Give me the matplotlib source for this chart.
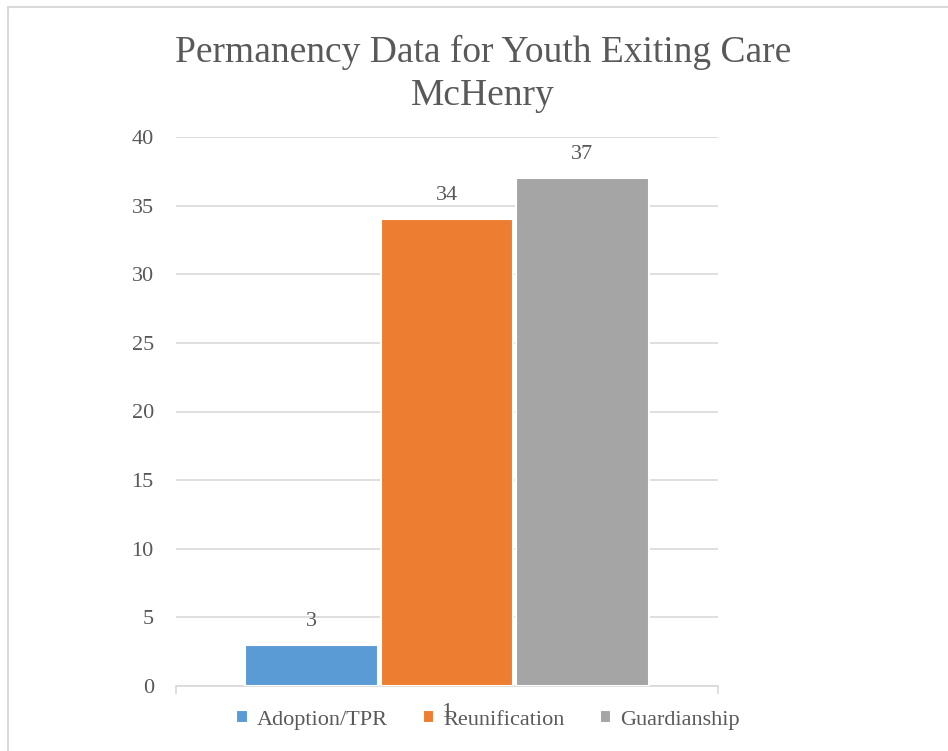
import matplotlib.pyplot as plt
from matplotlib.patches import Rectangle

# data
series = ["Adoption/TPR", "Reunification", "Guardianship"]
values = [3, 34, 37]
colors = ["#5B9BD5", "#ED7D31", "#A5A5A5"]
offsets = [-0.25, 0.0, 0.25]
yticks = [0, 5, 10, 15, 20, 25, 30, 35, 40]

txt = "#595959"
plt.rcParams['font.family'] = ['Liberation Serif', 'DejaVu Serif']

fig = plt.figure(figsize=(9.48, 7.51), dpi=100)
ax = fig.add_axes([176/948, 1-686/751, (718-176)/948, (686-137)/751])

# chart border (cropped on right and bottom like the source)
fig.patches.append(Rectangle((8/948, -0.05), 1.2, 1.05 - 7/751, transform=fig.transFigure,
                             fill=False, edgecolor="#D9D9D9", linewidth=1.5))

for name, v, c, off in zip(series, values, colors, offsets):
    ax.bar(1 + off, v, width=0.245, color=c, edgecolor="white", linewidth=1.5, label=name, zorder=3)
    ax.annotate(str(v), (1 + off, v), xytext=(0, 10), textcoords="offset points",
                ha="center", va="bottom", fontsize=16, color=txt)

ax.set_xlim(0.5, 1.5)
ax.set_ylim(0, 40)
ax.set_yticks(yticks)
ax.grid(axis="y", color="#D9D9D9", linewidth=1.2, zorder=0)
ax.tick_params(axis="y", length=0, pad=16, labelsize=16, labelcolor=txt)

ax.set_xticks([0.5, 1.5])
ax.set_xticklabels([])
ax.set_xticks([1], labels=["1"], minor=True)
ax.tick_params(axis="x", which="major", length=6, color="#D9D9D9", width=1.2)
ax.tick_params(axis="x", which="minor", length=0, pad=12, labelsize=16, labelcolor=txt)

for s in ["top", "right", "left"]:
    ax.spines[s].set_visible(False)
ax.spines["bottom"].set_color("#D9D9D9")
ax.spines["bottom"].set_linewidth(1.2)

fig.text(483/948, 1-74/751, "Permanency Data for Youth Exiting Care\nMcHenry",
         ha="center", va="center", fontsize=27, color=txt, linespacing=1.3)

ax.legend(loc="center", bbox_to_anchor=(488/948, 1-720/751), bbox_transform=fig.transFigure,
          ncol=3, frameon=False, fontsize=16, labelcolor=txt, handlelength=0.5, handleheight=0.5,
          handletextpad=0.4, columnspacing=1.6)

fig.savefig("out.png", dpi=100)
